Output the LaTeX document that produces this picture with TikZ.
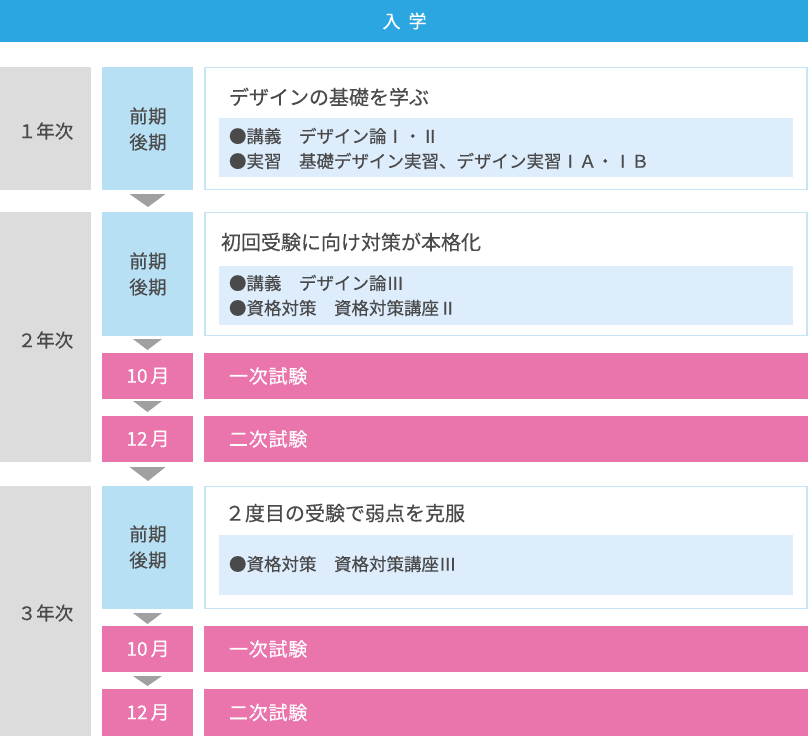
\documentclass[tikz,border=0pt]{standalone}
\usepackage{fontspec}
\setmainfont{Noto Sans CJK JP}[FakeBold=0.3]
\newfontfamily\jpL{Noto Sans CJK JP}[LetterSpace=2,FakeBold=0.3]
\newfontfamily\jpP{Noto Sans CJK JP}[LetterSpace=4,FakeBold=0.3]
\newfontfamily\jpT{Noto Sans CJK JP}[FakeBold=0.3]
\newfontfamily\jpB{Noto Sans CJK JP}[FakeBold=0.3]
\usetikzlibrary{calc}
\definecolor{topblue}{HTML}{2CA6E0}
\definecolor{yeargray}{HTML}{DCDCDC}
\definecolor{termblue}{HTML}{B8E0F4}
\definecolor{cborder}{HTML}{C5E4F5}
\definecolor{innerblue}{HTML}{DEEDFC}
\definecolor{pinkc}{HTML}{EA74AC}
\definecolor{arrowc}{HTML}{A0A0A0}
\definecolor{txtc}{HTML}{4A4A4A}
\tikzset{
  base/.style={inner sep=0pt, outer sep=0pt},
  yearbox/.style={base, fill=yeargray, minimum width=91, minimum height=#1},
  termbox/.style={base, fill=termblue, minimum width=91, minimum height=#1},
  contentbox/.style={base, fill=white, draw=cborder, line width=1.2pt, minimum width=602, minimum height=#1},
  innerbox/.style={base, fill=innerblue, minimum width=574, minimum height=#1},
  pinkbox/.style={base, fill=pinkc, minimum width=91, minimum height=#1},
  pinkwide/.style={base, fill=pinkc, minimum width=604, minimum height=#1},
  yeartext/.style={base, text=txtc, font=\jpT\fontsize{18.5}{20}\selectfont},
  termtext/.style={base, text=txtc, align=center, font=\jpL\fontsize{18.5}{26}\selectfont},
  titletext/.style={base, anchor=west, text=txtc, font=\jpT\fontsize{20}{22}\selectfont},
  bullettext/.style={base, anchor=west, text=txtc, font=\jpB\fontsize{17.5}{20}\selectfont},
  pinktext/.style={base, text=white, font=\jpT\fontsize{19}{20}\selectfont},
  pinktextw/.style={base, anchor=west, text=white, font=\jpP\fontsize{19}{20}\selectfont},
}
\begin{document}
\begin{tikzpicture}[x=1pt,y=-1pt]
\useasboundingbox (0,0) rectangle (808,736);
% top bar
\node[base, fill=topblue, minimum width=808, minimum height=42] (bar) at (404,21) {};
\node[base, text=white, font=\jpT\fontsize{18}{20}\selectfont] (barT) at (404.5,21) {入\hspace{8pt}学};

% ---------- year 1 ----------
\node[yearbox=123] (y1) at (45.5,128.5) {};
\node[yeartext] (y1T) at (45.5,131) {１年次};
\node[termbox=123] (p1) at (147.5,128.5) {};
\node[termtext] (p1T) at (148,129) {前期\\後期};
\node[contentbox=122] (c1) at (506,128.5) {};
\node[innerbox=59] (i1) at (506,147.5) {};
\node[titletext] (c1T) at (229,97) {デザインの基礎を学ぶ};
\node[bullettext] (b1a) at (229,136) {●講義　デザイン論Ⅰ・Ⅱ};
\node[bullettext] (b1b) at (229,161) {●実習　基礎デザイン実習、デザイン実習ⅠＡ・ⅠＢ};

% ---------- year 2 ----------
\node[yearbox=250] (y2) at (45.5,337) {};
\node[yeartext] (y2T) at (45.5,340) {２年次};
\node[termbox=124] (p2) at (147.5,274) {};
\node[termtext] (p2T) at (148,274) {前期\\後期};
\node[contentbox=123] (c2) at (506,274) {};
\node[innerbox=59] (i2) at (506,295) {};
\node[titletext] (c2T) at (221,242) {初回受験に向け対策が本格化};
\node[bullettext] (b2a) at (229,283) {●講義　デザイン論Ⅲ};
\node[bullettext] (b2b) at (229,308) {●資格対策　資格対策講座Ⅱ};
\node[pinkbox=46] (m2a) at (147.5,376) {};
\node[pinktext] (m2aT) at (148,376) {10\kern3pt 月};
\node[pinkwide=46] (e2a) at (506,376) {};
\node[pinktextw] (e2aT) at (229,376) {一次試験};
\node[pinkbox=46] (m2b) at (147.5,439) {};
\node[pinktext] (m2bT) at (148,439) {12\kern3pt 月};
\node[pinkwide=46] (e2b) at (506,439) {};
\node[pinktextw] (e2bT) at (229,439) {二次試験};

% ---------- year 3 ----------
\node[yearbox=250] (y3) at (45.5,611) {};
\node[yeartext] (y3T) at (45.5,613) {３年次};
\node[termbox=123] (p3) at (147.5,547.5) {};
\node[termtext] (p3T) at (148,547) {前期\\後期};
\node[contentbox=122] (c3) at (506,547.5) {};
\node[innerbox=60] (i3) at (506,565) {};
\node[titletext] (c3T) at (225,513) {２度目の受験で弱点を克服};
\node[bullettext] (b3a) at (229,564) {●資格対策　資格対策講座Ⅲ};
\node[pinkbox=46] (m3a) at (147.5,649) {};
\node[pinktext] (m3aT) at (148,649) {10\kern3pt 月};
\node[pinkwide=46] (e3a) at (506,649) {};
\node[pinktextw] (e3aT) at (229,649) {一次試験};
\node[pinkbox=47] (m3b) at (147.5,712.5) {};
\node[pinktext] (m3bT) at (148,712.5) {12\kern3pt 月};
\node[pinkwide=47] (e3b) at (506,712.5) {};
\node[pinktextw] (e3bT) at (229,712.5) {二次試験};

% ---------- arrows ----------
\fill[arrowc] ($(p1.south)+(-18,4)$) -- ($(p1.south)+(18,4)$) -- ($(p1.south)+(0.5,17)$) -- cycle;
\fill[arrowc] ($(p2.south)+(-14.5,3)$) -- ($(p2.south)+(14.5,3)$) -- ($(p2.south)+(0,14)$) -- cycle;
\fill[arrowc] ($(m2a.south)+(-14.5,2)$) -- ($(m2a.south)+(14.5,2)$) -- ($(m2a.south)+(0,13)$) -- cycle;
\fill[arrowc] ($(m2b.south)+(-18,5)$) -- ($(m2b.south)+(18,5)$) -- ($(m2b.south)+(0.5,19)$) -- cycle;
\fill[arrowc] ($(p3.south)+(-14.5,4)$) -- ($(p3.south)+(14.5,4)$) -- ($(p3.south)+(0,15)$) -- cycle;
\fill[arrowc] ($(m3a.south)+(-14.5,4)$) -- ($(m3a.south)+(14.5,4)$) -- ($(m3a.south)+(0,14)$) -- cycle;
\end{tikzpicture}
\end{document}
